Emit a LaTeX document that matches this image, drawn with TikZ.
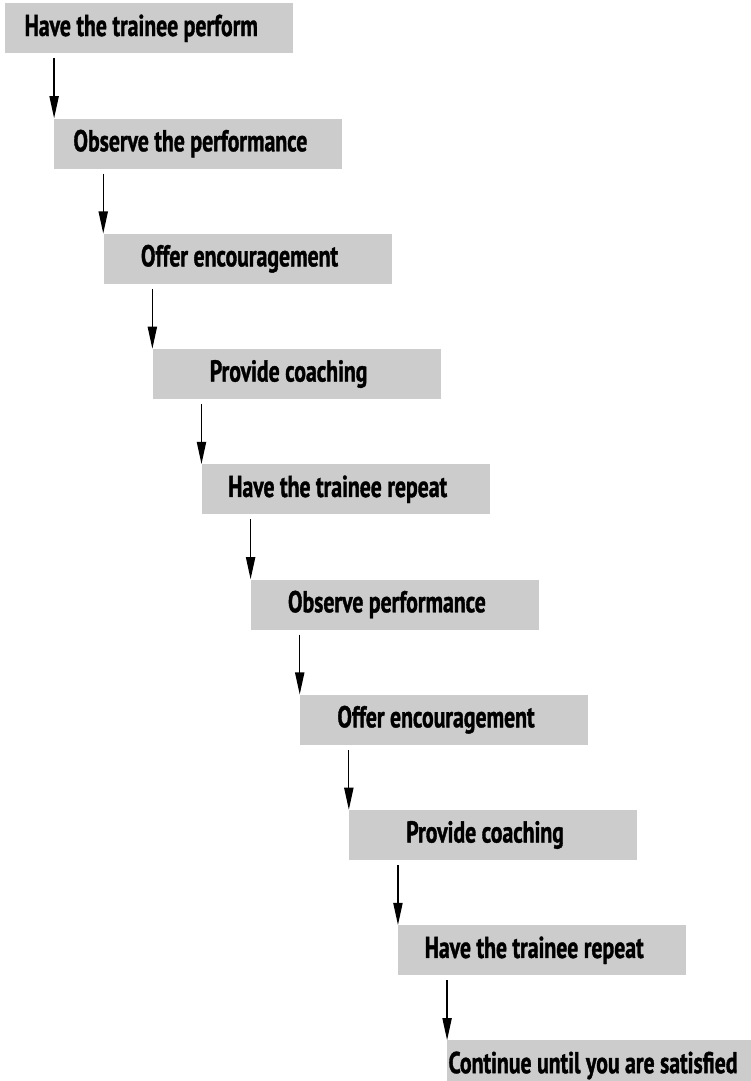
\documentclass[tikz,border=0pt]{standalone}
\usepackage{fontspec}
\usepackage{tikz}
\usetikzlibrary{arrows.meta,positioning}
\usepackage{xcolor}
\definecolor{boxgray}{RGB}{204,204,204}
\newfontfamily\stepfont[FakeStretch=0.72, FakeBold=1.2]{PT Sans}

\begin{document}
\begin{tikzpicture}[every node/.style={font=\stepfont\bfseries\fontsize{21.5}{24}\selectfont},
  stepbox/.style={fill=boxgray, minimum width=7.2cm, minimum height=1.25cm, inner sep=0pt, anchor=north west},
  flow/.style={-{Triangle[length=0.55cm, width=0.23cm]}, line width=0.9pt, shorten <=0.12cm}]
\useasboundingbox (0,0) rectangle (18.775,-27.025);
\node[stepbox] (b1) at (0.125,-0.075) {Have the trainee perform\hspace*{0.4cm}};
\node[stepbox, below right=1.617cm and 1.228cm of b1.south west] (b2) {Observe the performance\hspace*{0.4cm}};
\node[stepbox, below right=1.617cm and 1.228cm of b2.south west] (b3) {Offer encouragement\hspace*{0.4cm}};
\node[stepbox, below right=1.617cm and 1.228cm of b3.south west] (b4) {Provide coaching\hspace*{0.4cm}};
\node[stepbox, below right=1.617cm and 1.228cm of b4.south west] (b5) {Have the trainee repeat\hspace*{0.4cm}};
\node[stepbox, below right=1.617cm and 1.228cm of b5.south west] (b6) {Observe performance\hspace*{0.4cm}};
\node[stepbox, below right=1.617cm and 1.228cm of b6.south west] (b7) {Offer encouragement\hspace*{0.4cm}};
\node[stepbox, below right=1.617cm and 1.228cm of b7.south west] (b8) {Provide coaching\hspace*{0.4cm}};
\node[stepbox, below right=1.617cm and 1.228cm of b8.south west] (b9) {Have the trainee repeat\hspace*{0.4cm}};
\node[stepbox, text width=7.6cm, align=flush left, inner xsep=0.03cm, below right=1.617cm and 1.228cm of b9.south west] (b10) {Continue until you are satisfied};
% arrows down to the next step
\draw[flow] (b2.west |- b1.south) -- (b2.north west);
\draw[flow] (b3.west |- b2.south) -- (b3.north west);
\draw[flow] (b4.west |- b3.south) -- (b4.north west);
\draw[flow] (b5.west |- b4.south) -- (b5.north west);
\draw[flow] (b6.west |- b5.south) -- (b6.north west);
\draw[flow] (b7.west |- b6.south) -- (b7.north west);
\draw[flow] (b8.west |- b7.south) -- (b8.north west);
\draw[flow] (b9.west |- b8.south) -- (b9.north west);
\draw[flow] (b10.west |- b9.south) -- (b10.north west);
\end{tikzpicture}
\end{document}
